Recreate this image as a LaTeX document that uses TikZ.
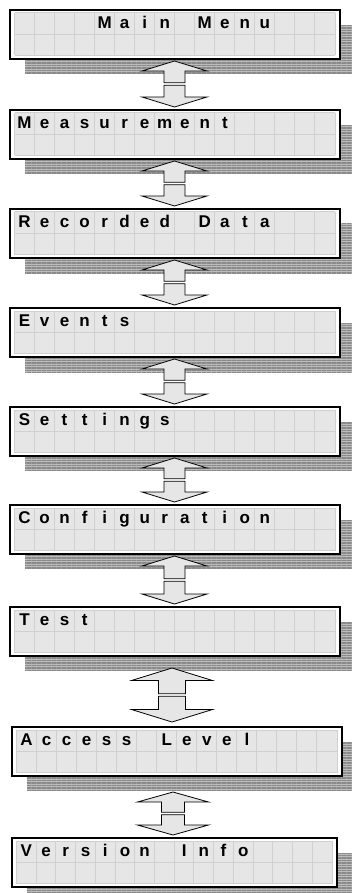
\documentclass[tikz,border=0pt]{standalone}
\usepackage{fontspec}
\setmainfont{Liberation Sans}
\usetikzlibrary{calc, patterns.meta}
\definecolor{cellGray}{RGB}{230,230,230}
\definecolor{gridGray}{RGB}{208,208,208}
\definecolor{shadowLight}{RGB}{188,188,188}
\definecolor{shadowDark}{RGB}{138,138,138}

\begin{document}
\begin{tikzpicture}[
    x=1pt, y=1pt,
    lcdbox/.style={rectangle, draw, line width=1.2pt, fill=white, inner sep=0pt, outer sep=0pt, anchor=north west, minimum height=49pt},
    lcdshadow/.style={fill=shadowLight, postaction={pattern={Lines[angle=0, distance=2.5pt, line width=1.2pt]}, pattern color=shadowDark}},
    lcdgrid/.style={draw=gridGray, line width=1pt},
    lcdchar/.style={anchor=base, inner sep=0pt, font=\fontsize{17}{17}\selectfont\bfseries},
    arrowbox/.style={draw, line width=0.8pt, fill=cellGray, line join=miter}
]
\useasboundingbox (0,0) rectangle (352,-893);

% menu screens: name/left/top/width/cells of first row
\foreach \nm/\x/\y/\w/\txt in {
    main/10/10/330/{,,,,M,a,i,n,,M,e,n,u},
    meas/10/110/330/{M,e,a,s,u,r,e,m,e,n,t},
    rec/10/209/330/{R,e,c,o,r,d,e,d,,D,a,t,a},
    events/10/308/330/{E,v,e,n,t,s},
    settings/10/407/330/{S,e,t,t,i,n,g,s},
    config/10/505/330/{C,o,n,f,i,g,u,r,a,t,i,o,n},
    test/10/607/330/{T,e,s,t},
    access/12/727/330/{A,c,c,e,s,s,,L,e,v,e,l},
    version/12/838/325/{V,e,r,s,i,o,n,,I,n,f,o}} {
  \fill[lcdshadow] (\x+15,-\y-15) rectangle ++(\w,-49);
  \node[lcdbox, minimum width=\w pt] (\nm) at (\x,-\y) {};
  \pgfmathsetmacro{\cw}{(\w-9.5)/16}
  \fill[cellGray] ($(\nm.north west)+(4.5,-3)$) rectangle ($(\nm.south east)+(-5,3.5)$);
  \foreach \k in {0,...,16}
    \draw[lcdgrid] ($(\nm.north west)+(4.5+\k*\cw,-3)$) -- ($(\nm.north west)+(4.5+\k*\cw,-45.5)$);
  \foreach \r in {-3,-24.25,-45.5}
    \draw[lcdgrid] ($(\nm.north west)+(4.5,\r)$) -- ($(\nm.north east)+(-5,\r)$);
  \foreach \c [count=\i] in \txt
    \node[lcdchar] at ($(\nm.north west)+(4.5+\i*\cw-0.5*\cw,-18.5)$) {\c};
}

% up/down arrows between screens: upper/lower/dx/tip gaps/head length/half widths
\foreach \a/\b/\dx/\ta/\tb/\hl/\hw/\sw in {
    main/meas/-0.5/2/3/10/32.5/10.5,
    meas/rec/-0.5/2/3/10/32.5/10.5,
    rec/events/-0.5/2/3/10/32.5/10.5,
    events/settings/-0.5/2/3/10/32.5/10.5,
    settings/config/-0.5/2/3/10/32.5/10.5,
    config/test/-0.5/2/3/10/32.5/10.5,
    test/access/-3/12/5/12.5/40.5/13.5,
    access/version/-4/16/3/10/35.5/11.5} {
  \coordinate (ut) at ($(\a.south)+(\dx,-\ta)$);
  \coordinate (dt) at ($(\a.south |- \b.north)+(\dx,\tb)$);
  \coordinate (mid) at ($(ut)!0.5!(dt)$);
  \draw[arrowbox] (ut) -- ($(ut)+(\hw,-\hl)$) -- ($(ut)+(\sw,-\hl)$) -- ($(mid)+(\sw,1.2)$)
    -- ($(mid)+(-\sw,1.2)$) -- ($(ut)+(-\sw,-\hl)$) -- ($(ut)+(-\hw,-\hl)$) -- cycle;
  \draw[arrowbox] (dt) -- ($(dt)+(\hw,\hl)$) -- ($(dt)+(\sw,\hl)$) -- ($(mid)+(\sw,-1.2)$)
    -- ($(mid)+(-\sw,-1.2)$) -- ($(dt)+(-\sw,\hl)$) -- ($(dt)+(-\hw,\hl)$) -- cycle;
}
\end{tikzpicture}
\end{document}
